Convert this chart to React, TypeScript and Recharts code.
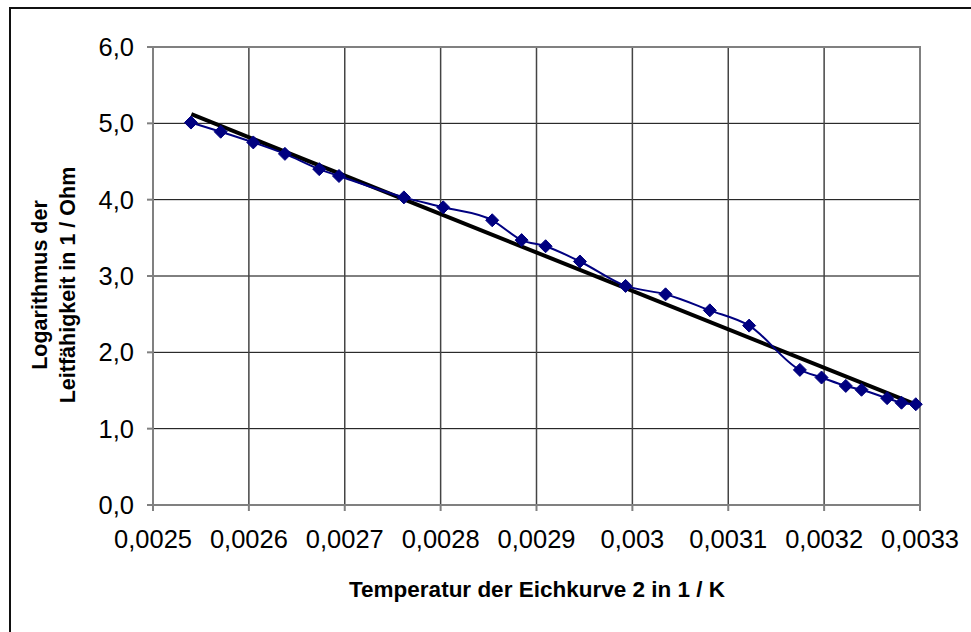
import { LineChart, Line, XAxis, YAxis, CartesianGrid, ReferenceArea } from 'recharts';

// measured points (1/T in 1/K, ln conductivity)
const tempInv = [
  0.0025396, 0.0025706, 0.0026046, 0.0026376, 0.0026734, 0.002694, 0.0027617, 0.0028027,
  0.0028538, 0.0028845, 0.0029095, 0.0029453, 0.0029929, 0.0030346, 0.0030808, 0.0031218,
  0.0031747, 0.0031973, 0.0032226, 0.003239, 0.0032657, 0.0032807, 0.0032956,
];
const logCond = [
  5.01, 4.89, 4.75, 4.6, 4.4, 4.31, 4.03, 3.9, 3.73, 3.47, 3.39, 3.19, 2.87, 2.76, 2.55, 2.35,
  1.77, 1.67, 1.56, 1.51, 1.4, 1.34, 1.32,
];

// linear trend line end points
const trendX = [0.00254, 0.0033];
const trendY = [5.12, 1.295];

const xTicks = [0.0025, 0.0026, 0.0027, 0.0028, 0.0029, 0.003, 0.0031, 0.0032, 0.0033];
const xTickLabels = ['0,0025', '0,0026', '0,0027', '0,0028', '0,0029', '0,003', '0,0031', '0,0032', '0,0033'];
const yTicks = [0, 1, 2, 3, 4, 5, 6];
const yTickLabels = ['0,0', '1,0', '2,0', '3,0', '4,0', '5,0', '6,0'];

const measured = tempInv.map((x, i) => ({ x, y: logCond[i] }));
const trend = trendX.map((x, i) => ({ x, y: trendY[i] }));

const FONT = '"Liberation Sans", Arial, sans-serif';

const Diamond = (props: any) => {
  const { cx, cy, index } = props;
  if (cx == null || cy == null) return <g key={index} />;
  const r = 6.5;
  return (
    <path
      key={index}
      d={`M${cx},${cy - r}L${cx + r},${cy}L${cx},${cy + r}L${cx - r},${cy}Z`}
      fill="#000080"
      stroke="#000080"
      strokeWidth={1}
    />
  );
};

const App = () => {
  return (
    <div style={{ position: 'absolute', left: 0, top: 0, width: 971, height: 632, overflow: 'hidden', background: '#fff' }}>
      <div style={{ position: 'absolute', left: 9, top: 7, width: 2, height: 640, background: '#111' }} />
      <div style={{ position: 'absolute', left: 9, top: 7, width: 980, height: 2, background: '#111' }} />
      <LineChart
        width={971}
        height={632}
        margin={{ top: 47, right: 51, left: 0, bottom: 0 }}
        style={{ position: 'absolute', left: 0, top: 0 }}
      >
        <CartesianGrid horizontal={true} vertical={false} stroke="#000" strokeWidth={1} />
        <CartesianGrid horizontal={false} vertical={true} stroke="#444" strokeWidth={1.5} />
        <XAxis
          type="number"
          dataKey="x"
          domain={[0.0025, 0.0033]}
          ticks={xTicks}
          tickFormatter={(v: number, i: number) => xTickLabels[i]}
          height={127}
          interval={0}
          stroke="#808080"
          strokeWidth={2}
          tickSize={6}
          tickMargin={19}
          tick={{ fill: '#000', fontSize: 25.5, fontFamily: FONT }}
          label={{
            content: () => (
              <text x={537} y={597} textAnchor="middle" fontSize={22.5} fontWeight="bold" fontFamily={FONT} fill="#000">
                Temperatur der Eichkurve 2 in 1 / K
              </text>
            ),
          }}
        />
        <YAxis
          type="number"
          dataKey="y"
          domain={[0, 6]}
          ticks={yTicks}
          tickFormatter={(v: number, i: number) => yTickLabels[i]}
          width={153}
          interval={0}
          stroke="#808080"
          strokeWidth={2}
          tickSize={6}
          tickMargin={13}
          tick={{ fill: '#000', fontSize: 25.5, fontFamily: FONT }}
          label={{
            content: () => (
              <g fontSize={21.5} fontWeight="bold" fontFamily={FONT} fill="#000" textAnchor="middle">
                <text x={47} y={285} transform="rotate(-90, 47, 285)">Logarithmus der</text>
                <text x={75} y={285} transform="rotate(-90, 75, 285)">Leitfähigkeit in 1 / Ohm</text>
              </g>
            ),
          }}
        />
        <ReferenceArea x1={0.0025} x2={0.0033} y1={0} y2={6} fill="none" stroke="#808080" strokeWidth={2} />
        <Line
          data={trend}
          dataKey="y"
          type="linear"
          stroke="#000"
          strokeWidth={4}
          dot={false}
          isAnimationActive={false}
        />
        <Line
          data={measured}
          dataKey="y"
          type="monotone"
          stroke="#000080"
          strokeWidth={2}
          dot={Diamond}
          activeDot={false}
          isAnimationActive={false}
        />
      </LineChart>
    </div>
  );
};

export default App;
